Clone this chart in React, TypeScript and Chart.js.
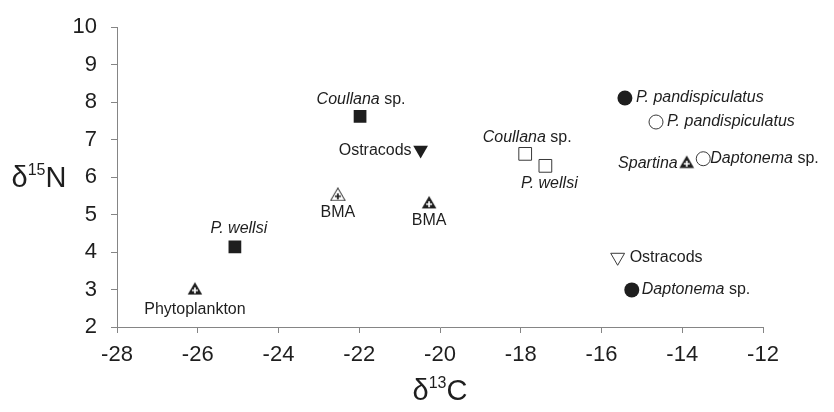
import React, { useEffect, useRef } from "react";
import { Chart, registerables } from "chart.js";

Chart.register(...registerables);

// ---- data ----
const NAMES = [
  "Phytoplankton",
  "*P. wellsi*",
  "*Coullana* sp.",
  "Ostracods",
  "BMA",
  "BMA",
  "*Coullana* sp.",
  "*P. wellsi*",
  "*P. pandispiculatus*",
  "*P. pandispiculatus*",
  "*Spartina*",
  "*Daptonema* sp.",
  "Ostracods",
  "*Daptonema* sp.",
];
const D13C = [-26.07, -25.08, -21.98, -20.48, -22.53, -20.27, -17.89, -17.39, -15.42, -14.65, -13.89, -13.48, -15.6, -15.25];
const D15N = [3.03, 4.14, 7.62, 6.72, 5.54, 5.33, 6.62, 6.3, 8.11, 7.47, 6.41, 6.49, 3.86, 2.99];
const MARKERS = [
  "triPlus",
  "square",
  "square",
  "triDown",
  "triPlusOpen",
  "triPlus",
  "squareOpen",
  "squareOpen",
  "circle",
  "circleOpen",
  "triPlus",
  "circleOpen",
  "triDownOpen",
  "circle",
];
const X_MIN = -28;
const X_MAX = -12;
const X_STEP = 2;
const Y_MIN = 2;
const Y_MAX = 10;
const Y_STEP = 1;

// ---- label placement (layout, separate from data) ----
// [align, dx, dy]
const LABEL_LAYOUT: [string, number, number][] = [
  ["center", 0, 21],
  ["center", 4, -18],
  ["center", 1, -17],
  ["right", -9, 0],
  ["center", 0, 18],
  ["center", 0, 18],
  ["center", 2, -16],
  ["center", 4, 18],
  ["left", 11, 0],
  ["left", 11, 0],
  ["right", -9, 2],
  ["left", 7, 0],
  ["left", 12, 0],
  ["left", 10, 0],
];

const FONT = "'Liberation Sans', Arial, Helvetica, sans-serif";
const INK = "#1e1e1e";
const AXIS = "#858585";
const LABEL_SIZE = 16;

function makeTri(filled: boolean): HTMLCanvasElement {
  const c = document.createElement("canvas");
  c.width = 16;
  c.height = 14;
  const g = c.getContext("2d")!;
  g.beginPath();
  g.moveTo(8, 0.7);
  g.lineTo(15.3, 13.3);
  g.lineTo(0.7, 13.3);
  g.closePath();
  if (filled) {
    g.fillStyle = INK;
    g.fill();
  } else {
    g.fillStyle = "#ffffff";
    g.fill();
    g.strokeStyle = INK;
    g.lineWidth = 1;
    g.stroke();
  }
  g.strokeStyle = filled ? "#ffffff" : INK;
  g.lineWidth = 1.7;
  g.beginPath();
  g.moveTo(8, 6);
  g.lineTo(8, 12);
  g.moveTo(5, 9);
  g.lineTo(11, 9);
  g.stroke();
  return c;
}

function parseParts(s: string) {
  const parts: { text: string; italic: boolean }[] = [];
  const segs = s.split("*");
  segs.forEach((t, i) => {
    if (t.length) parts.push({ text: t, italic: i % 2 === 1 });
  });
  return parts;
}

const labelPlugin = {
  id: "pointLabels",
  afterDatasetsDraw(chart: any) {
    const ctx = chart.ctx;
    const meta = chart.getDatasetMeta(0);
    ctx.save();
    ctx.fillStyle = INK;
    ctx.textBaseline = "middle";
    ctx.textAlign = "left";
    meta.data.forEach((el: any, i: number) => {
      const parts = parseParts(NAMES[i]);
      const [align, dx, dy] = LABEL_LAYOUT[i];
      let total = 0;
      const widths = parts.map((p) => {
        ctx.font = `${p.italic ? "italic " : ""}${LABEL_SIZE}px ${FONT}`;
        const w = ctx.measureText(p.text).width;
        total += w;
        return w;
      });
      let x = el.x + dx;
      if (align === "center") x -= total / 2;
      else if (align === "right") x -= total;
      const y = el.y + dy;
      parts.forEach((p, k) => {
        ctx.font = `${p.italic ? "italic " : ""}${LABEL_SIZE}px ${FONT}`;
        ctx.fillText(p.text, x, y);
        x += widths[k];
      });
    });
    ctx.restore();
  },
};

function drawSupTitle(ctx: CanvasRenderingContext2D, pre: string, sup: string, post: string, cx: number, cy: number) {
  const big = `29px ${FONT}`;
  const small = `16px ${FONT}`;
  ctx.font = big;
  const w1 = ctx.measureText(pre).width;
  const w3 = ctx.measureText(post).width;
  ctx.font = small;
  const w2 = ctx.measureText(sup).width;
  let x = cx - (w1 + w2 + w3) / 2;
  ctx.textBaseline = "alphabetic";
  ctx.textAlign = "left";
  ctx.fillStyle = INK;
  ctx.font = big;
  ctx.fillText(pre, x, cy + 10);
  x += w1;
  ctx.font = small;
  ctx.fillText(sup, x, cy - 2);
  x += w2;
  ctx.font = big;
  ctx.fillText(post, x, cy + 10);
}

const titlePlugin = {
  id: "axisTitles",
  afterDraw(chart: any) {
    const ctx = chart.ctx;
    const a = chart.chartArea;
    ctx.save();
    drawSupTitle(ctx, "δ", "15", "N", 39, (a.top + a.bottom) / 2);
    drawSupTitle(ctx, "δ", "13", "C", (a.left + a.right) / 2, 390);
    ctx.restore();
  },
};

export default function App() {
  const ref = useRef<HTMLCanvasElement>(null);
  useEffect(() => {
    const triPlus = makeTri(true);
    const triPlusOpen = makeTri(false);
    const styleOf = (m: string): any => {
      switch (m) {
        case "triPlus":
          return triPlus;
        case "triPlusOpen":
          return triPlusOpen;
        case "square":
        case "squareOpen":
          return "rect";
        case "circle":
        case "circleOpen":
          return "circle";
        default:
          return "triangle";
      }
    };
    const radiusOf = (m: string) => {
      if (m.startsWith("square")) return 9;
      if (m === "circle") return 7.5;
      if (m === "circleOpen") return 7;
      if (m === "triDown") return 8.5;
      if (m === "triDownOpen") return 8;
      return 8;
    };
    const isOpen = (m: string) => m.endsWith("Open");
    const data = D13C.map((x, i) => ({ x, y: D15N[i] }));
    const chart = new Chart(ref.current!, {
      type: "scatter",
      data: {
        datasets: [
          {
            data,
            pointStyle: MARKERS.map(styleOf),
            pointRadius: MARKERS.map(radiusOf),
            pointRotation: MARKERS.map((m) => (m.startsWith("triDown") ? 180 : 0)),
            backgroundColor: MARKERS.map((m) => (isOpen(m) ? "#ffffff" : INK)),
            borderColor: MARKERS.map((m) => (isOpen(m) ? "#3a3a3a" : INK)),
            borderWidth: MARKERS.map((m) => (isOpen(m) ? 1 : 0)),
          } as any,
        ],
      },
      options: {
        responsive: false,
        animation: false,
        events: [],
        layout: { padding: { left: 0, top: 24, right: 71, bottom: 0 } },
        plugins: { legend: { display: false }, tooltip: { enabled: false } },
        scales: {
          x: {
            type: "linear",
            min: X_MIN,
            max: X_MAX,
            afterFit: (s: any) => {
              s.height = 85;
            },
            afterBuildTicks: (s: any) => {
              const t = [];
              for (let v = X_MIN; v <= X_MAX; v += X_STEP) t.push({ value: v });
              s.ticks = t;
            },
            grid: { display: true, drawOnChartArea: false, drawTicks: true, tickLength: 6, color: AXIS },
            border: { display: true, color: AXIS, width: 1 },
            ticks: { color: INK, font: { family: FONT, size: 22 }, padding: 9, maxRotation: 0 },
          },
          y: {
            type: "linear",
            min: Y_MIN,
            max: Y_MAX,
            afterFit: (s: any) => {
              s.width = 117;
            },
            afterBuildTicks: (s: any) => {
              const t = [];
              for (let v = Y_MIN; v <= Y_MAX; v += Y_STEP) t.push({ value: v });
              s.ticks = t;
            },
            grid: { display: true, drawOnChartArea: false, drawTicks: true, tickLength: 6, color: AXIS },
            border: { display: true, color: AXIS, width: 1 },
            ticks: { color: INK, font: { family: FONT, size: 22 }, padding: 14 },
          },
        },
      },
      plugins: [labelPlugin, titlePlugin],
    });
    return () => chart.destroy();
  }, []);
  return (
    <div style={{ position: "fixed", left: 0, top: 0, width: 834, height: 412, background: "#fff" }}>
      <canvas ref={ref} width={834} height={412} />
    </div>
  );
}
